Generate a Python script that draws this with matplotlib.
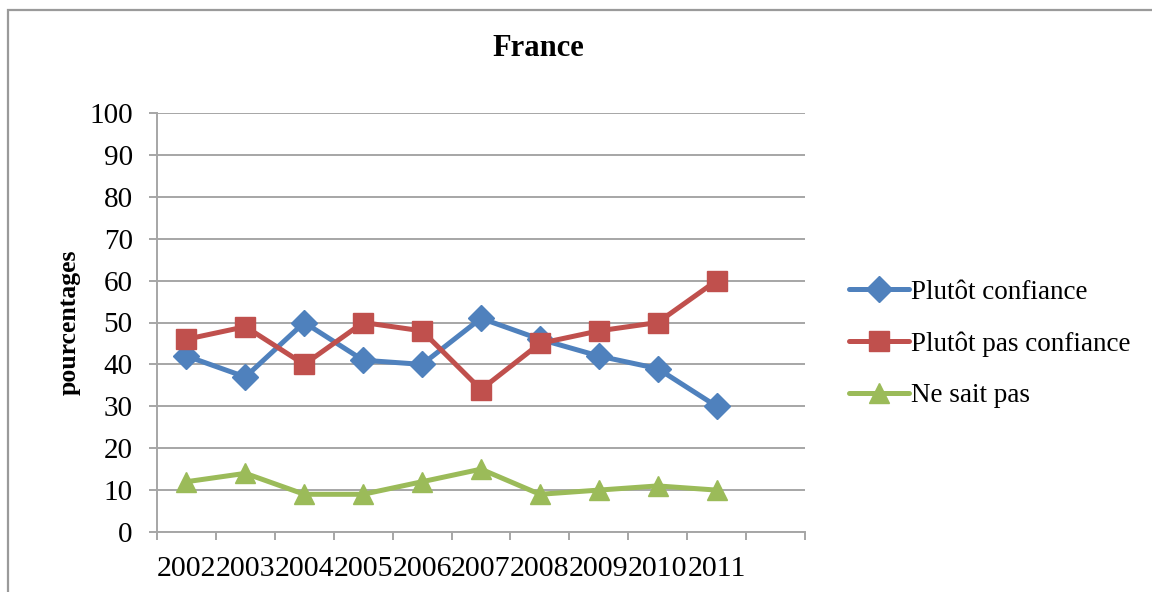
import matplotlib
matplotlib.use("Agg")
import matplotlib.pyplot as plt
from matplotlib.patches import Rectangle
import numpy as np

years = ["2002", "2003", "2004", "2005", "2006", "2007", "2008", "2009", "2010", "2011"]
plutot_confiance = [42, 37, 50, 41, 40, 51, 46, 42, 39, 30]
plutot_pas_confiance = [46, 49, 40, 50, 48, 34, 45, 48, 50, 60]
ne_sait_pas = [12, 14, 9, 9, 12, 15, 9, 10, 11, 10]
series_names = ["Plutôt confiance", "Plutôt pas confiance", "Ne sait pas"]
y_ticks = list(range(0, 101, 10))

colors = ["#4F81BD", "#C0504D", "#9BBB59"]
markers = ["D", "s", "^"]
msizes = [13, 14, 15]

serif = ["Liberation Serif", "DejaVu Serif"]
plt.rcParams["font.family"] = serif

W, H = 1152, 592
fig = plt.figure(figsize=(W / 100, H / 100), dpi=100)
ax = fig.add_axes([157 / W, (H - 532) / H, 648 / W, 419 / H])

x = np.arange(len(years))
for vals, name, c, m, ms in zip([plutot_confiance, plutot_pas_confiance, ne_sait_pas],
                                series_names, colors, markers, msizes):
    ax.plot(x, vals, color=c, lw=3.6, marker=m, markersize=ms,
            markerfacecolor=c, markeredgecolor=c, label=name,
            solid_joinstyle="round", solid_capstyle="round", zorder=3)

ax.set_xlim(-0.5, 10.5)
ax.set_ylim(0, 100)
ax.set_yticks(y_ticks)
ax.set_yticklabels([str(v) for v in y_ticks])
ax.set_xticks(x)
ax.set_xticklabels(years)
ax.set_xticks(np.arange(-0.5, 11.0, 1.0), minor=True)

gc = "#A6A6A6"
ax.grid(axis="y", color=gc, lw=1.4, zorder=1)
for s in ["top", "right"]:
    ax.spines[s].set_visible(False)
for s in ["left", "bottom"]:
    ax.spines[s].set_color(gc)
    ax.spines[s].set_linewidth(1.4)

ax.tick_params(axis="y", direction="out", length=5.5, width=1.4, color=gc,
               labelsize=21, pad=12)
ax.tick_params(axis="x", which="major", length=0, labelsize=21.5, pad=17)
ax.tick_params(axis="x", which="minor", direction="out", length=6, width=1.4, color=gc)

ax.set_ylabel("pourcentages", fontsize=18.5, fontweight="bold")
ax.yaxis.set_label_coords((81 - 157) / 648, 0.5)

fig.text(538 / W, 1 - 48 / H, "France", ha="center", va="center",
         fontsize=22, fontweight="bold")

leg = fig.legend(loc="center left", bbox_to_anchor=(849 / W, 1 - 344 / H),
                 frameon=False, fontsize=19.5, handlelength=2.2, handletextpad=0.1,
                 labelspacing=0.98, borderaxespad=0, borderpad=0)

fig.patches.append(Rectangle((8 / W, -0.1), 1.2, 1 - 9.5 / H + 0.1,
                             transform=fig.transFigure, fill=False,
                             edgecolor="#9A9A9A", lw=1.6))

fig.savefig("out.png", dpi=100)
